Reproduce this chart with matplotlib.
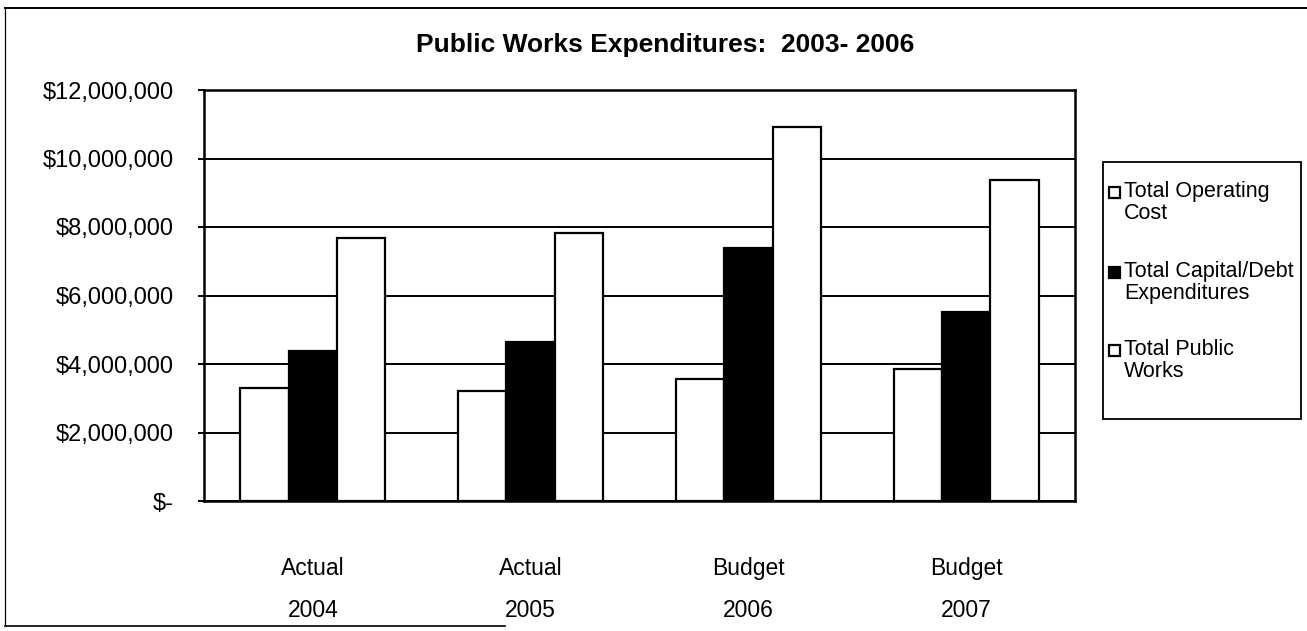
import matplotlib
matplotlib.use("Agg")
import matplotlib.pyplot as plt
from matplotlib.patches import Rectangle
from matplotlib.lines import Line2D
from matplotlib.ticker import FuncFormatter
import numpy as np

plt.rcParams['font.family'] = ['Liberation Sans', 'DejaVu Sans']

# Data
categories = ["Actual\n2004", "Actual\n2005", "Budget\n2006", "Budget\n2007"]
series_names = ["Total Operating\nCost", "Total Capital/Debt\nExpenditures", "Total Public\nWorks"]
operating = [3300000, 3220000, 3560000, 3850000]
capital_debt = [4380000, 4650000, 7400000, 5520000]
public_works = [7670000, 7820000, 10930000, 9370000]
y_ticks = [0, 2000000, 4000000, 6000000, 8000000, 10000000, 12000000]

W, H = 1307, 631
fig = plt.figure(figsize=(W / 100, H / 100), dpi=100)
fig.patch.set_facecolor("white")

ax = fig.add_axes([204 / W, 1 - 501 / H, (1075 - 204) / W, (501 - 90) / H])

series = [operating, capital_debt, public_works]
faces = ["white", "black", "white"]
x = np.arange(len(categories))
bw = 1 / 4.5
for i, (vals, fc) in enumerate(zip(series, faces)):
    ax.bar(x + (i - 1) * bw, vals, width=bw, facecolor=fc, edgecolor="black",
           linewidth=1.6, zorder=3)

ax.set_xlim(-0.5, len(categories) - 0.5)
ax.set_ylim(0, 12000000)
ax.set_yticks(y_ticks)
ax.yaxis.set_major_formatter(FuncFormatter(lambda v, p: "$-" if v == 0 else f"${v:,.0f}"))
ax.grid(axis="y", color="black", linewidth=1.4, zorder=1)
ax.set_xticks(x)
ax.set_xticklabels(categories, linespacing=2.1)
ax.tick_params(axis="x", length=0, pad=40, labelsize=16.5)
ax.tick_params(axis="y", length=4, width=1.4, direction="out", pad=18, labelsize=17)
for s in ax.spines.values():
    s.set_linewidth(1.8)

fig.text(665 / W, 1 - 45 / H, "Public Works Expenditures:  2003- 2006",
         ha="center", va="center", fontsize=19, fontweight="bold")

# Legend box drawn in pixel coordinates
def px(xp, yp):
    return xp / W, 1 - yp / H

lx0, ly0, lx1, ly1 = 1103, 162, 1301, 419
fig.patches.append(Rectangle(px(lx0, ly1), (lx1 - lx0) / W, (ly1 - ly0) / H,
                             transform=fig.transFigure, facecolor="white",
                             edgecolor="black", linewidth=1.3, zorder=5))
entry_y = [192, 272, 350]
for name, fc, ey in zip(series_names, faces, entry_y):
    fig.patches.append(Rectangle(px(1109, ey + 6), 11 / W, 11 / H,
                                 transform=fig.transFigure, facecolor=fc,
                                 edgecolor="black", linewidth=1.6, zorder=6))
    fig.text(*px(1124, ey - 11), name, ha="left", va="top", fontsize=15.5,
             linespacing=1.05, zorder=7)

# Outer frame
frame = dict(color="black", transform=fig.transFigure, zorder=2)
fig.lines.append(Line2D([5 / W, 1], [1 - 8 / H, 1 - 8 / H], linewidth=1.4, **frame))
fig.lines.append(Line2D([5 / W, 5 / W], [1 - 8 / H, 1 - 626 / H], linewidth=0.9, **frame))
fig.lines.append(Line2D([5 / W, 505 / W], [1 - 626 / H, 1 - 626 / H], linewidth=1.2, **frame))

fig.savefig("out.png", dpi=100, facecolor="white")
